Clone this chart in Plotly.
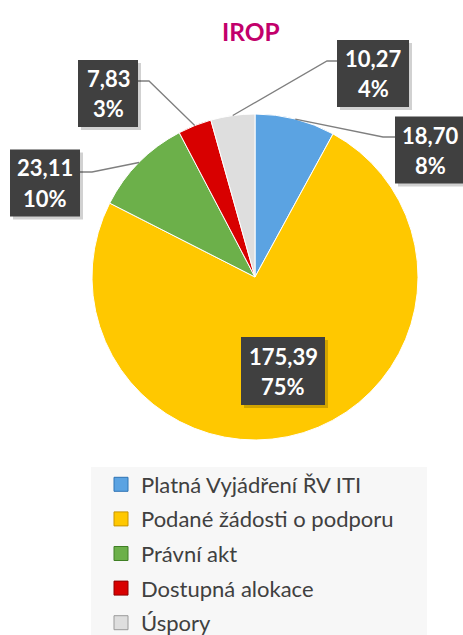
import math
import plotly.graph_objects as go

# ---- data ----
labels = ["Platná Vyjádření ŘV ITI", "Podané žádosti o podporu", "Právní akt",
          "Dostupná alokace", "Úspory"]
values = [18.70, 175.39, 23.11, 7.83, 10.27]
colors = ["#5BA3E2", "#FFC800", "#6CB04A", "#D80000", "#DEDEDE"]
edge_colors = ["#2F74B5", "#C79400", "#3F7F24", "#8E0000", "#9A9A9A"]
title_text = "IROP"

W, H = 463, 660          # figure extends below the window; legend is cut like in the original
CX, CY, R = 255.0, 277.0, 163.0  # pie geometry in px
FONT = "Lato, Open Sans, sans-serif"


def px(x):
    return x / W


def py(y):
    return 1 - y / H


total = sum(values)
value_txt = [f"{v:.2f}".replace(".", ",") for v in values]
pct_txt = [f"{round(v / total * 100)}%" for v in values]

fig = go.Figure()
fig.add_trace(go.Pie(
    labels=labels, values=values, sort=False, direction="clockwise", rotation=0,
    marker=dict(colors=colors, line=dict(color="white", width=1)),
    textinfo="none", showlegend=False,
    domain=dict(x=[px(CX - R), px(CX + R)], y=[py(CY + R), py(CY - R)]),
    hovertemplate="%{label}: %{value:.2f} (%{percent})<extra></extra>",
))

# legend entries
for lab, c, ec in zip(labels, colors, edge_colors):
    fig.add_trace(go.Scatter(
        x=[None], y=[None], mode="markers", name=lab, legendgroup=lab,
        marker=dict(symbol="square", size=14, color=c, line=dict(color=ec, width=1)),
        showlegend=True, hoverinfo="skip",
    ))

# label boxes: (center x, center y, width, height) in px, per slice
boxes = [(430, 150, 70, 67), (283, 371, 84, 68), (45, 183, 70, 67),
         (108, 93.5, 60, 67), (373, 73.5, 72, 67)]
# leader elbows (elbow point, box edge point) in px; None = label inside slice
elbows = [((383, 137), (396, 137)), None, ((92, 172), (80, 172)),
          ((149, 81), (138, 81)), ((327, 61), (338, 61))]

shapes = [
    # legend background panel
    dict(type="rect", xref="paper", yref="paper", layer="below",
         x0=px(91), x1=px(427), y0=py(H), y1=py(467),
         fillcolor="#F7F7F7", line=dict(width=0)),
]
annotations = []
cum = 0.0
for i, v in enumerate(values):
    mid = (cum + v / 2) / total * 2 * math.pi
    cum += v
    sx = CX + R * math.sin(mid)
    sy = CY - R * math.cos(mid)
    if elbows[i] is not None:
        (ex, ey), (bx, by) = elbows[i]
        shapes.append(dict(
            type="path", xref="paper", yref="paper",
            path=f"M {px(sx)} {py(sy)} L {px(ex)} {py(ey)} L {px(bx)} {py(by)}",
            line=dict(color="#7F7F7F", width=1.3),
        ))
    bcx, bcy, bw, bh = boxes[i]
    shapes.append(dict(
        type="rect", xref="paper", yref="paper",
        x0=px(bcx - bw / 2 + 3), x1=px(bcx + bw / 2 + 3),
        y0=py(bcy + bh / 2 + 3), y1=py(bcy - bh / 2 + 3),
        fillcolor="rgba(0,0,0,0.18)", line=dict(width=0),
    ))
    shapes.append(dict(
        type="rect", xref="paper", yref="paper",
        x0=px(bcx - bw / 2), x1=px(bcx + bw / 2),
        y0=py(bcy + bh / 2), y1=py(bcy - bh / 2),
        fillcolor="#404040", line=dict(width=0),
    ))
    for txt, dy in ((value_txt[i], -15), (pct_txt[i], 15)):
        annotations.append(dict(
            x=px(bcx), y=py(bcy + dy), xref="paper", yref="paper",
            text=f"<b>{txt}</b>", showarrow=False,
            xanchor="center", yanchor="middle",
            font=dict(family=FONT, size=22, color="white"),
        ))

annotations.append(dict(
    x=px(251), y=py(31), xref="paper", yref="paper",
    text=f"<b>{title_text}</b>", showarrow=False, xanchor="center", yanchor="middle",
    font=dict(family=FONT, size=24.5, color="#C2006B"),
))

fig.update_layout(
    width=W, height=H,
    margin=dict(l=0, r=0, t=0, b=0),
    paper_bgcolor="white", plot_bgcolor="rgba(0,0,0,0)",
    xaxis=dict(visible=False), yaxis=dict(visible=False),
    shapes=shapes, annotations=annotations,
    legend=dict(
        x=px(101), y=py(463.5), xanchor="left", yanchor="top",
        bgcolor="rgba(0,0,0,0)", orientation="v", tracegroupgap=3,
        font=dict(family=FONT, size=22, color="#404040"),
    ),
)

fig.write_html(
    "out.html",
    config={"displayModeBar": False},
    post_script=("document.body.style.margin='0';"
                 "document.body.style.overflow='hidden';"
                 "document.documentElement.style.overflow='hidden';"),
)
